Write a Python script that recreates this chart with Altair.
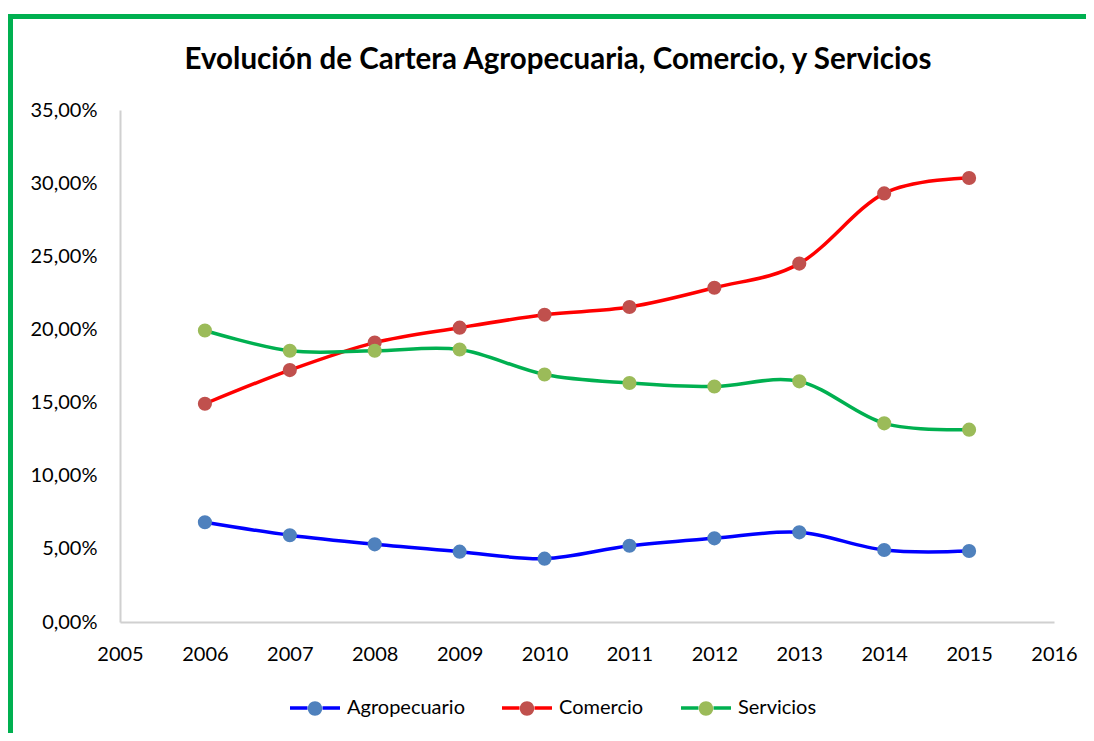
import altair as alt
import pandas as pd

# ---- data ----
years = [2006, 2007, 2008, 2009, 2010, 2011, 2012, 2013, 2014, 2015]
series_names = ["Agropecuario", "Comercio", "Servicios"]
agropecuario = [6.82, 5.93, 5.31, 4.81, 4.33, 5.21, 5.72, 6.13, 4.92, 4.85]
comercio = [14.92, 17.22, 19.10, 20.12, 21.00, 21.53, 22.85, 24.50, 29.30, 30.35]
servicios = [19.93, 18.54, 18.54, 18.63, 16.92, 16.34, 16.10, 16.45, 13.58, 13.15]
y_ticks = [0, 5, 10, 15, 20, 25, 30, 35]
x_ticks = [2005, 2006, 2007, 2008, 2009, 2010, 2011, 2012, 2013, 2014, 2015, 2016]
line_colors = ["#0000FF", "#FF0000", "#00B050"]
marker_colors = ["#4F81BD", "#C0504D", "#9BBB59"]
title_text = "Evolución de Cartera Agropecuaria, Comercio, y Servicios"

rows = []
for name, vals in zip(series_names, [agropecuario, comercio, servicios]):
    for yr, v in zip(years, vals):
        rows.append({"Año": yr, "Valor": v, "Serie": name, "SerieP": name})
df = pd.DataFrame(rows)

FONT = "Lato"

x_enc = alt.X(
    "Año:Q",
    scale=alt.Scale(domain=[2005, 2016], nice=False, zero=False),
    axis=alt.Axis(
        values=x_ticks, format="d", title=None, grid=False, ticks=False,
        domainColor="#d0d0d0", domainWidth=2, labelPadding=22,
        labelFlush=False, labelOverlap=False,
        labelFont=FONT, labelFontSize=20, labelColor="black",
    ),
)
y_enc = alt.Y(
    "Valor:Q",
    scale=alt.Scale(domain=[0, 35], nice=False),
    axis=alt.Axis(
        values=y_ticks, title=None, grid=False, ticks=False,
        domainColor="#d0d0d0", domainWidth=2, labelPadding=23,
        labelFlush=False,
        labelFont=FONT, labelFontSize=20, labelColor="black",
        labelExpr="replace(format(datum.value, '.2f'), '.', ',') + '%'",
    ),
)

# legend: line part (with labels) and marker part (overlaid, labels hidden)
legend_common = dict(
    title=None, orient="none", legendX=168, direction="horizontal",
    symbolSize=2500, symbolStrokeWidth=3.5, symbolOpacity=1,
    labelFont=FONT, labelFontSize=20, labelOffset=5, columnPadding=30,
)

lines = alt.Chart(df).mark_line(interpolate="cardinal", strokeWidth=3.5).encode(
    x=x_enc,
    y=y_enc,
    stroke=alt.Stroke(
        "Serie:N",
        scale=alt.Scale(domain=series_names, range=line_colors),
        legend=alt.Legend(
            legendY=571,
            symbolType="M-1,0H-0.3M0.3,0H1",
            labelColor="black",
            **legend_common,
        ),
    ),
)

points = alt.Chart(df).mark_circle(size=200, opacity=1).encode(
    x=x_enc,
    y=y_enc,
    fill=alt.Fill(
        "SerieP:N",
        scale=alt.Scale(domain=series_names, range=marker_colors),
        legend=alt.Legend(
            legendY=543,
            symbolType="M-1,0L-1,0M1,0L1,0M-0.29,1.12A0.29,0.29,0,1,0,0.29,1.12A0.29,0.29,0,1,0,-0.29,1.12Z",
            symbolStrokeColor="transparent",
            labelOpacity=0,
            **legend_common,
        ),
    ),
)

frame_data = alt.Data(values=[{"k": 1}])
top_border = alt.Chart(frame_data).mark_rule(color="#00B050", strokeWidth=5).encode(
    x=alt.value(-112), x2=alt.value(970), y=alt.value(-93.5)
)
left_border = alt.Chart(frame_data).mark_rule(color="#00B050", strokeWidth=5).encode(
    x=alt.value(-109.5), y=alt.value(-96), y2=alt.value(640)
)

chart = alt.layer(lines, points, top_border, left_border).properties(
    width=934,
    height=512,
    padding={"left": 112, "top": 102, "right": 32, "bottom": 111},
    autosize=alt.AutoSizeParams(type="none"),
    title=alt.TitleParams(
        title_text, font=FONT, fontSize=29.5, fontWeight="bold", color="black",
        anchor="middle", frame="group", baseline="alphabetic",
        dx=-29, dy=87, offset=0,
    ),
).configure_view(stroke=None).resolve_scale(fill="independent", stroke="independent")

chart.save("out.html", embed_options={"renderer": "svg", "actions": False})
